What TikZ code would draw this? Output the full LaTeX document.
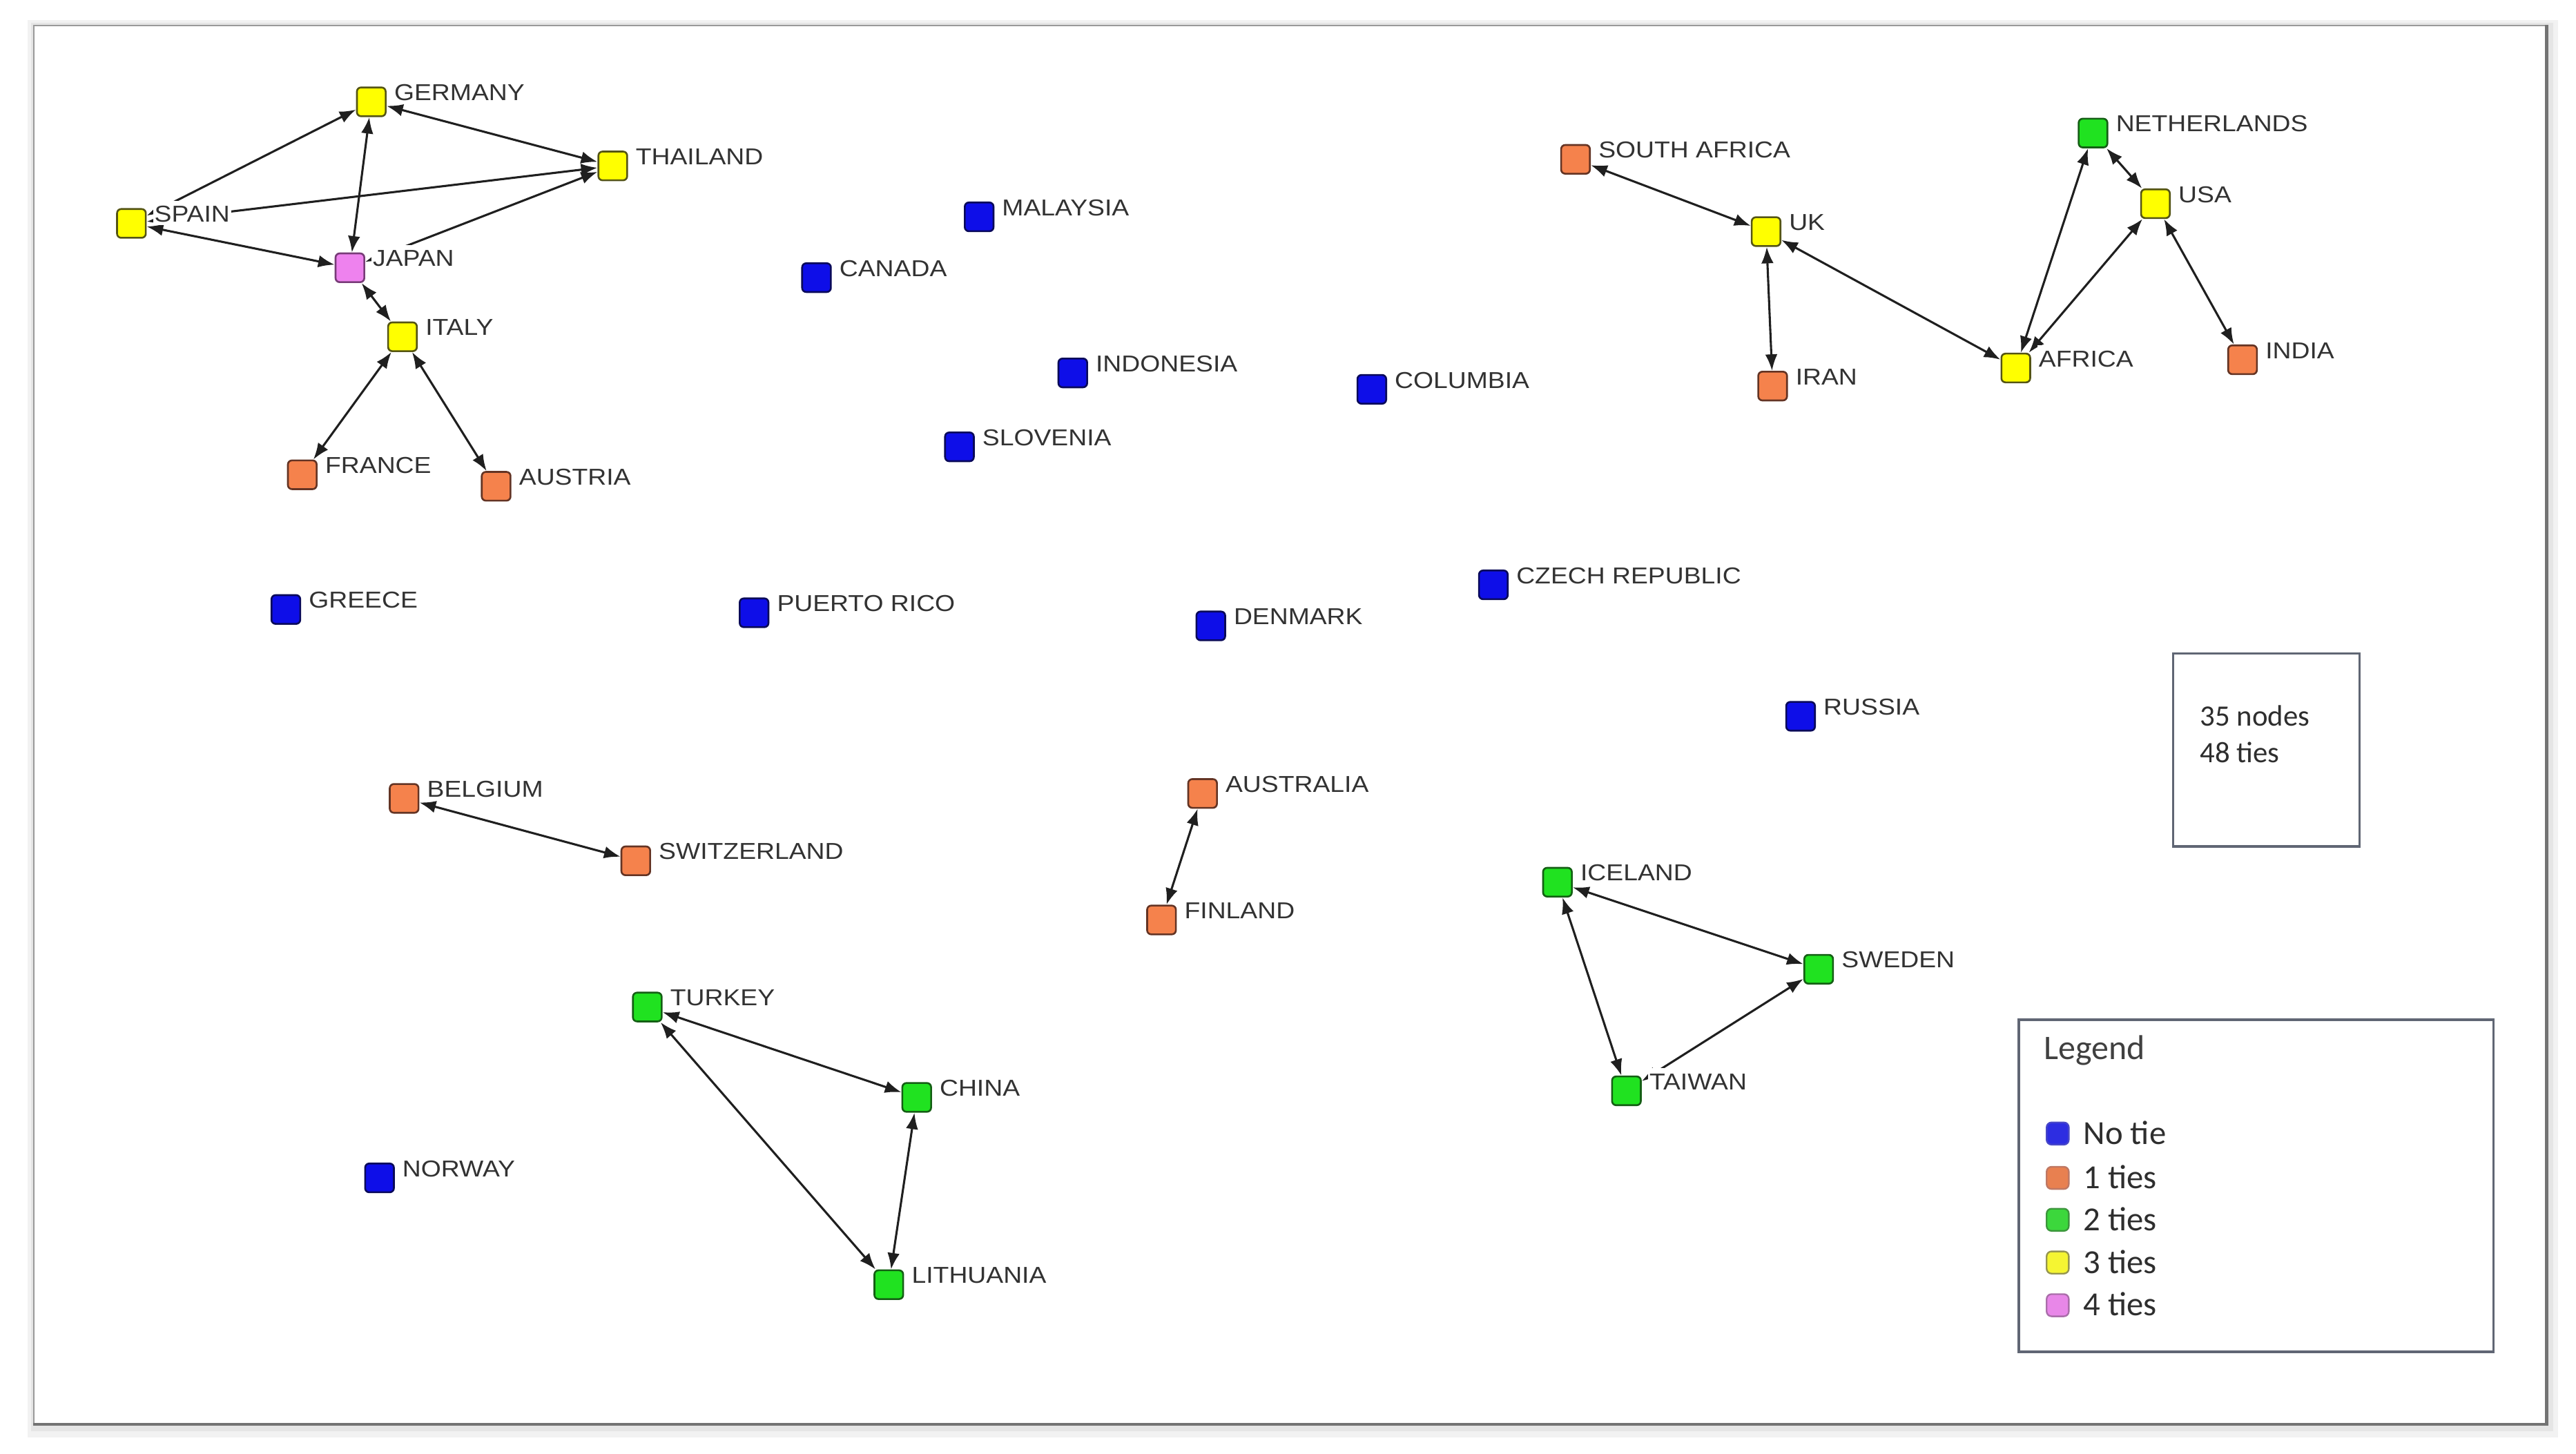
\documentclass[tikz,border=0pt]{standalone}
\usepackage{fontspec}
\newfontfamily\netfont{Liberation Sans}[FakeStretch=1.12]
\newfontfamily\legfont{Carlito}
\usetikzlibrary{arrows.meta}
\pgfdeclarelayer{bottom}
\pgfdeclarelayer{background}
\pgfsetlayers{bottom,background,main}
\definecolor{nblue}{RGB}{14,14,232}
\definecolor{nblueD}{RGB}{10,10,90}
\definecolor{norange}{RGB}{245,130,76}
\definecolor{norangeD}{RGB}{100,52,36}
\definecolor{nyellow}{RGB}{255,255,0}
\definecolor{nyellowD}{RGB}{85,85,20}
\definecolor{ngreen}{RGB}{32,226,32}
\definecolor{ngreenD}{RGB}{20,95,20}
\definecolor{npink}{RGB}{238,130,238}
\definecolor{npinkD}{RGB}{120,60,120}
\definecolor{labgray}{RGB}{50,50,50}
\definecolor{boxgray}{RGB}{96,102,116}
\newcommand\mkcountry[5]{%
  \node[sq,#1] (#2) at (#3,#4) {};
  \node[lbl] (#2-lab) at (#3+13,#4-0.8) {#5};}
\begin{document}
\begin{tikzpicture}[x=1pt,y=-1pt,
  sq/.style={rectangle, rounded corners=2.5pt, minimum size=17.5pt, inner sep=0pt, line width=1.1pt},
  nb/.style={fill=nblue, draw=nblueD},
  no/.style={fill=norange, draw=norangeD},
  ny/.style={fill=nyellow, draw=nyellowD},
  ng/.style={fill=ngreen, draw=ngreenD},
  np/.style={fill=npink, draw=npinkD},
  lbl/.style={anchor=base west, fill=white, inner xsep=0.8pt, inner ysep=0pt,
    text height=13pt, text depth=2pt, text=labgray,
    font=\netfont\fontsize{14}{16}\selectfont},
  tie/.style={line width=1.3pt, draw=black!88,
    {Latex[length=10pt,width=7.5pt]}-{Latex[length=10pt,width=7.5pt]}},
  legsq/.style={rectangle, rounded corners=3pt, minimum size=13.5pt, inner sep=0pt, line width=1pt},
  legtxt/.style={anchor=base west, inner sep=0pt, text=black!82,
    font=\legfont\fontsize{20.5}{24}\selectfont},
  boxline/.style={draw=boxgray, line width=1.5pt, fill=white, inner sep=0pt}
]
\useasboundingbox (0,0) rectangle (1568,885);
% outer frame with shadow
\begin{pgfonlayer}{bottom}
\fill[black!5] (17,12) rectangle (1557,875);
\fill[black!10] (19,14) rectangle (1554,871);
\fill[black!22] (20,15) rectangle (1551,868);
\node[rectangle, fill=white, draw=black!40, line width=1pt, inner sep=0pt,
  minimum width=1529pt, minimum height=851pt, anchor=north west] (frame) at (20,15) {};
\draw[black!55, line width=2pt] (frame.north east) -- (frame.south east) -- (frame.south west);
\end{pgfonlayer}

% top-left cluster
\mkcountry{ny}{germany}{226}{62}{GERMANY}
\mkcountry{ny}{thailand}{373}{101}{THAILAND}
\mkcountry{ny}{spain}{80}{136}{SPAIN}
\mkcountry{np}{japan}{213}{163}{JAPAN}
\mkcountry{ny}{italy}{245}{205}{ITALY}
\mkcountry{no}{france}{184}{289}{FRANCE}
\mkcountry{no}{austria}{302}{296}{AUSTRIA}
% isolated
\mkcountry{nb}{malaysia}{596}{132}{MALAYSIA}
\mkcountry{nb}{canada}{497}{169}{CANADA}
\mkcountry{nb}{indonesia}{653}{227}{INDONESIA}
\mkcountry{nb}{slovenia}{584}{272}{SLOVENIA}
\mkcountry{nb}{columbia}{835}{237}{COLUMBIA}
\mkcountry{nb}{greece}{174}{371}{GREECE}
\mkcountry{nb}{puerto}{459}{373}{PUERTO RICO}
\mkcountry{nb}{denmark}{737}{381}{DENMARK}
\mkcountry{nb}{czech}{909}{356}{CZECH REPUBLIC}
\mkcountry{nb}{russia}{1096}{436}{RUSSIA}
\mkcountry{nb}{norway}{231}{717}{NORWAY}
% top-right cluster
\mkcountry{no}{safrica}{959}{97}{SOUTH AFRICA}
\mkcountry{ny}{uk}{1075}{141}{UK}
\mkcountry{no}{iran}{1079}{235}{IRAN}
\mkcountry{ng}{netherlands}{1274}{81}{NETHERLANDS}
\mkcountry{ny}{usa}{1312}{124}{USA}
\mkcountry{ny}{africa}{1227}{224}{AFRICA}
\mkcountry{no}{india}{1365}{219}{INDIA}
% pairs
\mkcountry{no}{belgium}{246}{486}{BELGIUM}
\mkcountry{no}{switzerland}{387}{524}{SWITZERLAND}
\mkcountry{no}{australia}{732}{483}{AUSTRALIA}
\mkcountry{no}{finland}{707}{560}{FINLAND}
% triangles
\mkcountry{ng}{iceland}{948}{537}{ICELAND}
\mkcountry{ng}{sweden}{1107}{590}{SWEDEN}
\mkcountry{ng}{taiwan}{990}{664}{TAIWAN}
\mkcountry{ng}{turkey}{394}{613}{TURKEY}
\mkcountry{ng}{china}{558}{668}{CHINA}
\mkcountry{ng}{lithuania}{541}{782}{LITHUANIA}

\begin{pgfonlayer}{background}
\foreach \a/\b in {spain/germany, spain/thailand, spain/japan, germany/thailand,
  germany/japan, japan/thailand, japan/italy, italy/france, italy/austria,
  safrica/uk, uk/iran, uk/africa, africa/netherlands, africa/usa,
  netherlands/usa, usa/india, belgium/switzerland, australia/finland,
  iceland/sweden, iceland/taiwan, taiwan/sweden, turkey/china,
  turkey/lithuania, china/lithuania}
  \draw[tie] (\a) -- (\b);
\end{pgfonlayer}

% summary box
\node[boxline, minimum width=113.5pt, minimum height=117.5pt, anchor=north west] (summary) at (1322,397) {};
\node[anchor=base west, inner sep=0pt, text=black!82, font=\legfont\fontsize{18}{22}\selectfont]
  (sumtext) at (1339,442) {35 nodes};
\node[anchor=base west, inner sep=0pt, text=black!82, font=\legfont\fontsize{18}{22}\selectfont]
  (sumtext2) at (1339,464) {48 ties};

% legend
\node[boxline, minimum width=289pt, minimum height=202pt, anchor=north west] (legend) at (1228,620) {};
\node[anchor=base west, inner sep=0pt, text=black!75, font=\legfont\fontsize{21}{24}\selectfont]
  (legtitle) at (1244,645) {Legend};
\node[legsq, fill={rgb,255:red,45;green,45;blue,225}, draw={rgb,255:red,70;green,70;blue,200}] (lq0) at (1252.5,690) {};
\node[legtxt] (lt0) at (1268,696.5) {No tie};
\node[legsq, fill={rgb,255:red,232;green,128;blue,80}, draw={rgb,255:red,190;green,120;blue,100}] (lq1) at (1252.5,717) {};
\node[legtxt] (lt1) at (1268,723.5) {1 ties};
\node[legsq, fill={rgb,255:red,60;green,215;blue,60}, draw={rgb,255:red,60;green,150;blue,60}] (lq2) at (1252.5,742.5) {};
\node[legtxt] (lt2) at (1268,749) {2 ties};
\node[legsq, fill={rgb,255:red,245;green,245;blue,50}, draw={rgb,255:red,150;green,150;blue,80}] (lq3) at (1252.5,768.5) {};
\node[legtxt] (lt3) at (1268,775) {3 ties};
\node[legsq, fill={rgb,255:red,232;green,135;blue,232}, draw={rgb,255:red,170;green,110;blue,170}] (lq4) at (1252.5,794.5) {};
\node[legtxt] (lt4) at (1268,801) {4 ties};
\end{tikzpicture}
\end{document}
